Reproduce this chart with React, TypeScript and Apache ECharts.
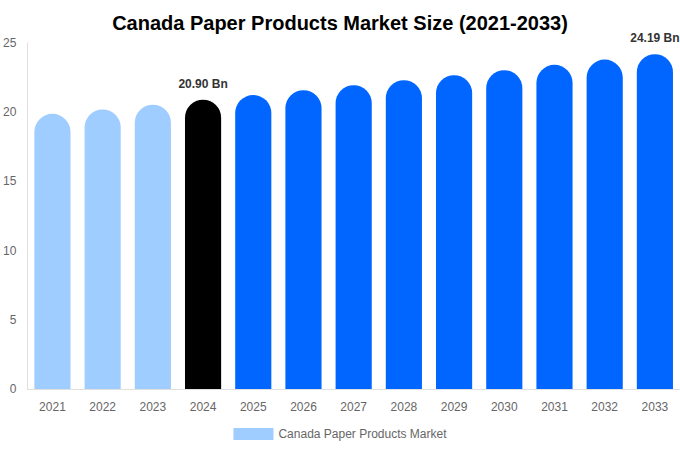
import { useEffect, useRef } from 'react'
import * as echarts from 'echarts'

// 年份与市场规模（十亿）
const years = ['2021', '2022', '2023', '2024', '2025', '2026', '2027', '2028', '2029', '2030', '2031', '2032', '2033']
const marketSize = [19.88, 20.2, 20.54, 20.9, 21.24, 21.59, 21.95, 22.31, 22.67, 23.04, 23.42, 23.8, 24.19]
const yTicks = [0, 5, 10, 15, 20, 25]
// 仅这两年显示数值标签
const labeledYears = ['2024', '2033']

const seriesName = 'Canada Paper Products Market'
const FONT = '"Liberation Sans", Arial, sans-serif'

function barColor(year: string) {
  const y = Number(year)
  if (y < 2024) return '#a0cdff'
  if (y === 2024) return '#000000'
  return '#0066ff'
}

export default function App() {
  const containerRef = useRef<HTMLDivElement>(null)

  useEffect(() => {
    if (!containerRef.current) return
    const chart = echarts.init(containerRef.current, undefined, { renderer: 'svg' })

    const data = years.map((y, i) => ({
      value: marketSize[i],
      itemStyle: { color: barColor(y) },
      label: {
        show: labeledYears.includes(y),
        position: 'top' as const,
        distance: 10,
        formatter: (p: any) => `${Number(p.value).toFixed(2)} Bn`,
        color: '#333',
        fontWeight: 'bold' as const,
        fontSize: 12,
        fontFamily: FONT,
      },
    }))

    chart.setOption({
      animation: false,
      textStyle: { fontFamily: FONT },
      title: {
        text: 'Canada Paper Products Market Size (2021-2033)',
        left: 'center',
        top: 8,
        textStyle: { color: '#000', fontSize: 20, fontWeight: 'bold', fontFamily: FONT },
      },
      legend: {
        bottom: 5,
        left: 'center',
        itemWidth: 40,
        itemHeight: 12,
        icon: 'rect',
        data: [{ name: seriesName, itemStyle: { color: '#a0cdff' } }],
        textStyle: { color: '#666', fontSize: 12, fontFamily: FONT },
      },
      grid: { left: 27, right: 0, top: 43, bottom: 61, containLabel: false },
      xAxis: {
        type: 'category',
        data: years,
        axisLine: { lineStyle: { color: '#e0e0e0' } },
        axisTick: { show: false },
        axisLabel: { color: '#666', fontSize: 12, margin: 12, fontFamily: FONT },
      },
      yAxis: {
        type: 'value',
        min: yTicks[0],
        max: yTicks[yTicks.length - 1],
        interval: 5,
        axisLine: { show: true, lineStyle: { color: '#e0e0e0' } },
        axisTick: { show: false },
        splitLine: { show: false },
        axisLabel: { color: '#666', fontSize: 12, margin: 11, fontFamily: FONT },
      },
      series: [
        {
          name: seriesName,
          type: 'bar',
          data,
          barWidth: '72%',
          itemStyle: { borderRadius: [18, 18, 0, 0] },
        },
      ],
    })

    return () => chart.dispose()
  }, [])

  return <div ref={containerRef} style={{ position: 'absolute', left: 0, top: 0, width: 680, height: 450 }} />
}
